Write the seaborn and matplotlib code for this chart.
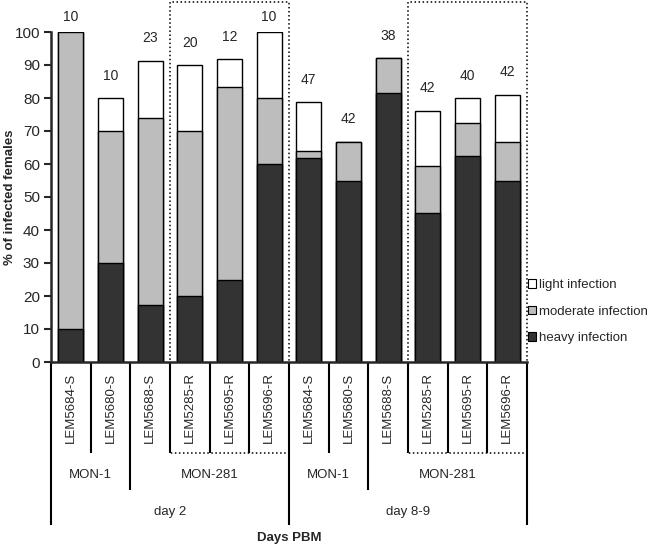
import matplotlib
matplotlib.use('Agg')
import numpy as np
import pandas as pd
import matplotlib.pyplot as plt
from matplotlib.patches import Patch
import seaborn as sns

sns.set_style('ticks')
plt.rcParams['font.family'] = ['Liberation Sans', 'DejaVu Sans']

# data: % of infected females per infection class
strains = ['LEM5684-S', 'LEM5680-S', 'LEM5688-S', 'LEM5285-R', 'LEM5695-R', 'LEM5696-R',
           'LEM5684-S', 'LEM5680-S', 'LEM5688-S', 'LEM5285-R', 'LEM5695-R', 'LEM5696-R']
heavy = [10, 30, 17.4, 20, 25, 60, 61.7, 54.8, 81.6, 45.2, 62.5, 54.8]
moderate = [90, 40, 56.5, 50, 58.3, 20, 2.1, 11.9, 10.5, 14.3, 10.0, 11.9]
light = [0, 10, 17.4, 20, 8.4, 20, 14.9, 0, 0, 16.7, 7.5, 14.3]
n_females = [10, 10, 23, 20, 12, 10, 47, 42, 38, 42, 40, 42]

zymodemes = ['MON-1', 'MON-281', 'MON-1', 'MON-281']
zymo_sizes = [2, 4, 2, 4]
days = ['day 2', 'day 8-9']
day_sizes = [6, 6]
resistant_groups = [(3, 5), (9, 11)]

df = pd.DataFrame({'pos': range(len(strains)), 'strain': strains,
                   'heavy': heavy, 'moderate': moderate, 'light': light})
df['hm'] = df['heavy'] + df['moderate']
df['total'] = df['hm'] + df['light']

c_light, c_mod, c_heavy = '#ffffff', '#bdbdbd', '#333333'

fig, ax = plt.subplots(figsize=(6.5, 5.46), dpi=100)
fig.subplots_adjust(left=51 / 650, right=527 / 650, bottom=1 - 362 / 546, top=1 - 32 / 546)

for col, c in [('total', c_light), ('hm', c_mod), ('heavy', c_heavy)]:
    sns.barplot(data=df, x='pos', y=col, color=c, width=0.63, edgecolor='black',
                linewidth=1, errorbar=None, saturation=1, ax=ax)

ax.set_xlim(-0.5, len(strains) - 0.5)
ax.set_ylim(0, 100)
ax.set_yticks(range(0, 101, 10))
ax.tick_params(axis='y', labelsize=11, length=5, width=1.5, pad=3)
ax.set_xticks([])
ax.set_xlabel('')
ax.set_ylabel('% of infected females', fontsize=9.5, fontweight='bold')
ax.yaxis.set_label_coords(-0.073, 0.5)
sns.despine(ax=ax)
ax.spines['left'].set_linewidth(1.8)
ax.spines['bottom'].set_linewidth(1.8)

# n above bars
for i, (t, n) in enumerate(zip(df['total'], n_females)):
    ax.text(i, min(t + 6.8, 104.4), str(n), ha='center', va='center',
            fontsize=10, clip_on=False)

# hierarchical labels below the axis
tr = ax.get_xaxis_transform()
y_strain, y_zymo, y_day = -0.276, -0.388, -0.494
for i, s in enumerate(strains):
    ax.text(i, -0.139, s, rotation=90, ha='center', va='center', fontsize=9.5, transform=tr)

zb = np.concatenate([[0], np.cumsum(zymo_sizes)])
db = np.concatenate([[0], np.cumsum(day_sizes)])
for k, z in enumerate(zymodemes):
    ax.text((zb[k] + zb[k + 1]) / 2 - 0.5, -0.342, z, ha='center', va='center',
            fontsize=9.5, transform=tr)
for k, d in enumerate(days):
    ax.text((db[k] + db[k + 1]) / 2 - 0.5, -0.455, d, ha='center', va='center',
            fontsize=9.5, transform=tr)
ax.text(0.5, -0.533, 'Days PBM', ha='center', va='center', fontsize=9.5,
        fontweight='bold', transform=ax.transAxes)

for b in range(len(strains) + 1):
    depth = y_strain
    if b in zb:
        depth = y_zymo
    if b in db:
        depth = y_day
    ax.plot([b - 0.5, b - 0.5], [0, depth], color='black', lw=1.5,
            transform=tr, clip_on=False, solid_capstyle='butt')

# dotted boxes around resistant strains
for a, b in resistant_groups:
    x0, x1 = a - 0.5, b + 0.5
    ax.plot([x0, x0, x1, x1, x0], [y_strain, 1.091, 1.091, y_strain, y_strain],
            color='black', lw=1.1, ls=':', transform=tr, clip_on=False)

handles = [Patch(facecolor=c_light, edgecolor='black', lw=0.8, label='light infection'),
           Patch(facecolor=c_mod, edgecolor='black', lw=0.8, label='moderate infection'),
           Patch(facecolor=c_heavy, edgecolor='black', lw=0.8, label='heavy infection')]
fig.legend(handles=handles, loc='upper left', bbox_to_anchor=(528 / 650, 1 - 279 / 546),
           frameon=False, fontsize=9.5, handlelength=0.6, handleheight=0.6,
           handletextpad=0.25, labelspacing=1.1, borderpad=0, borderaxespad=0)

fig.savefig('out.png', dpi=100)
